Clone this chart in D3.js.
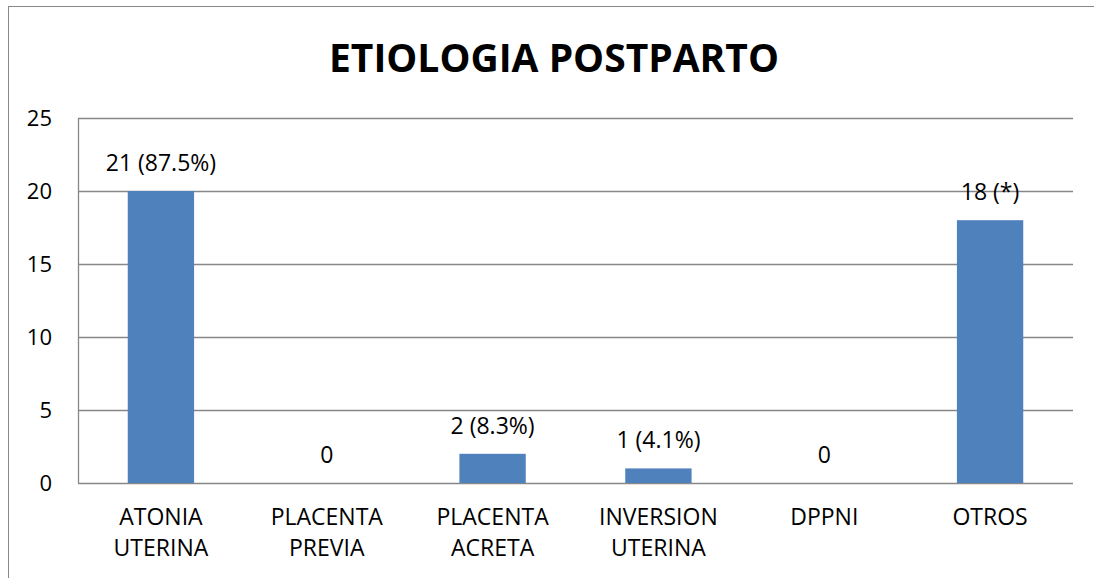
<!DOCTYPE html>
<html>
<head>
<meta charset="utf-8">
<script src="https://cdn.jsdelivr.net/npm/d3@7"></script>
<style>
  body { margin: 0; background: #fff; }
  text { font-family: "Open Sans", sans-serif; fill: #000; }
</style>
</head>
<body>
<script>
const width = 1094,
      height = 578;

// data
const categories = ["ATONIA UTERINA", "PLACENTA PREVIA", "PLACENTA ACRETA", "INVERSION UTERINA", "DPPNI", "OTROS"];
const values = [20, 0, 2, 1, 0, 18];
const labels = ["21 (87.5%)", "0", "2 (8.3%)", "1 (4.1%)", "0", "18 (*)"];
const yTicks = [0, 5, 10, 15, 20, 25];

const margin = {left: 78, right: 21, top: 118, bottom: 95};

var svg = d3.select("body").append("svg")
	.attr("width", width)
	.attr("height", height);

// chart border (right/bottom sides run off the picture)
svg.append("rect")
	.attr("x", 8.5).attr("y", 6.5)
	.attr("width", 1200).attr("height", 700)
	.attr("fill", "none")
	.attr("stroke", "#898989")
	.attr("stroke-width", 1);

var x = d3.scaleBand()
	.domain(categories)
	.range([margin.left, width - margin.right])
	.paddingInner(0.6)
	.paddingOuter(0.3);

var y = d3.scaleLinear()
	.domain([0, 25])
	.range([height - margin.bottom, margin.top]);

// gridlines
svg.append("g")
	.selectAll("line")
	.data(yTicks)
	.enter().append("line")
	.attr("x1", margin.left).attr("x2", width - margin.right)
	.attr("y1", d => Math.round(y(d)) + 0.5)
	.attr("y2", d => Math.round(y(d)) + 0.5)
	.attr("stroke", "#878787")
	.attr("stroke-width", 1.3);

// y axis
var yAxis = svg.append("g")
	.attr("transform", "translate(" + margin.left + ",0)")
	.call(d3.axisLeft(y).tickValues(yTicks).tickSize(0).tickPadding(26));
yAxis.select(".domain")
	.attr("stroke", "#878787")
	.attr("stroke-width", 1.3)
	.attr("d", "M0.5," + y(25) + "V" + y(0));
yAxis.selectAll("text")
	.style("font-family", "Open Sans")
	.style("font-size", "22px")
	.attr("dy", "0.35em");

// bars
svg.selectAll(".bar")
	.data(values)
	.enter().append("rect")
	.attr("class", "bar")
	.attr("x", (d, i) => x(categories[i]))
	.attr("width", x.bandwidth())
	.attr("y", d => y(d))
	.attr("height", d => y(0) - y(d))
	.attr("fill", "#4f81bd");

// value labels
svg.selectAll(".lbl")
	.data(values)
	.enter().append("text")
	.attr("class", "lbl")
	.attr("x", (d, i) => x(categories[i]) + x.bandwidth() / 2)
	.attr("y", d => y(d) - 20)
	.attr("text-anchor", "middle")
	.style("font-size", "23px")
	.text((d, i) => labels[i]);

// category labels, two lines each
var cat = svg.selectAll(".cat")
	.data(categories)
	.enter().append("text")
	.attr("class", "cat")
	.attr("text-anchor", "middle")
	.style("font-size", "23px")
	.attr("transform", d => "translate(" + (x(d) + x.bandwidth() / 2) + "," + (y(0) + 42) + ")");
cat.selectAll("tspan")
	.data(d => d.split(" "))
	.enter().append("tspan")
	.attr("x", 0)
	.attr("dy", (d, i) => i == 0 ? 0 : 31)
	.text(d => d);

// title
svg.append("text")
	.attr("x", 554)
	.attr("y", 72)
	.attr("text-anchor", "middle")
	.style("font-size", "39px")
	.style("font-weight", "bold")
	.text("ETIOLOGIA POSTPARTO");
</script>
</body>
</html>
